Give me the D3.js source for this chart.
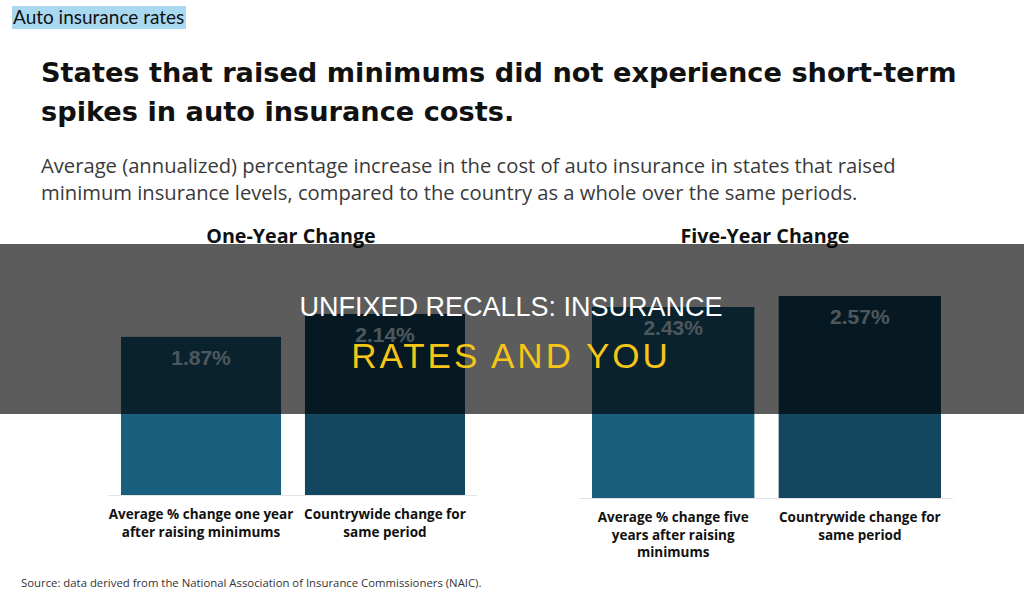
<!DOCTYPE html>
<html>
<head>
<meta charset="utf-8">
<script src="https://cdnjs.cloudflare.com/ajax/libs/d3/7.8.5/d3.min.js"></script>
<style>
  body { margin: 0; background: #fff; }
  svg { display: block; }
</style>
</head>
<body>
<div id="chart"></div>
<script>
// data
var oneYearCategories = ["Average % change one year|after raising minimums", "Countrywide change for|same period"];
var oneYearValues = [1.87, 2.14];
var fiveYearCategories = ["Average % change five|years after raising|minimums", "Countrywide change for|same period"];
var fiveYearValues = [2.43, 2.57];
var barColors = ["#19607f", "#134760"];

var W = 1024, H = 597;
var font = "'Open Sans', sans-serif";
var arial = "'Liberation Sans', Arial, sans-serif";

var svg = d3.select("#chart").append("svg")
  .attr("width", W).attr("height", H);

// tag label at top left
svg.append("rect").attr("x", 12).attr("y", 6).attr("width", 174).attr("height", 23).attr("fill", "#a9d9f1");
svg.append("text").attr("x", 13).attr("y", 24)
  .attr("font-family", "Lato, sans-serif").attr("font-size", 19).attr("fill", "#111")
  .text("Auto insurance rates");

// title
var title = ["States that raised minimums did not experience short-term", "spikes in auto insurance costs."];
svg.selectAll(".title").data(title).enter().append("text")
  .attr("x", 41).attr("y", function(d, i) { return 82 + i * 39; })
  .attr("font-family", "'DejaVu Sans', sans-serif").attr("font-weight", 700).attr("font-size", 27.2)
  .attr("fill", "#111").text(function(d) { return d; });

var sub = ["Average (annualized) percentage increase in the cost of auto insurance in states that raised",
           "minimum insurance levels, compared to the country as a whole over the same periods."];
svg.selectAll(".sub").data(sub).enter().append("text")
  .attr("x", 41).attr("y", function(d, i) { return 173 + i * 27; })
  .attr("font-family", font).attr("font-size", 20.2)
  .attr("fill", "#3a3a3a").text(function(d) { return d; });

function drawPanel(opts) {
  var x = d3.scaleBand().domain(opts.categories).range(opts.xRange).paddingInner(0.13).paddingOuter(0);
  var y = d3.scaleLinear().domain([0, d3.max(opts.values)]).range([opts.base, opts.top]);
  var g = svg.append("g");

  g.append("text").attr("x", opts.center).attr("y", 243).attr("text-anchor", "middle")
    .attr("font-family", font).attr("font-weight", 700).attr("font-size", 19.7).attr("fill", "#111")
    .text(opts.heading);

  g.append("line").attr("x1", opts.xRange[0] - 13).attr("x2", opts.xRange[1] + 12)
    .attr("y1", opts.base + 0.5).attr("y2", opts.base + 0.5)
    .attr("stroke", "#e4e4e4").attr("stroke-width", 1);

  g.selectAll("rect.bar").data(opts.values).enter().append("rect")
    .attr("class", "bar")
    .attr("x", function(d, i) { return x(opts.categories[i]); })
    .attr("y", function(d) { return y(d); })
    .attr("width", x.bandwidth())
    .attr("height", function(d) { return opts.base - y(d); })
    .attr("fill", function(d, i) { return barColors[i]; });

  g.selectAll("text.val").data(opts.values).enter().append("text")
    .attr("class", "val")
    .attr("x", function(d, i) { return x(opts.categories[i]) + x.bandwidth() / 2; })
    .attr("y", function(d) { return y(d) + 28; })
    .attr("text-anchor", "middle")
    .attr("font-family", arial).attr("font-weight", 700).attr("font-size", 21)
    .attr("fill", "#d8f0ff")
    .text(function(d) { return d.toFixed(2) + "%"; });

  g.selectAll("text.cat").data(opts.categories).enter().append("text")
    .attr("class", "cat")
    .attr("x", function(d) { return x(d) + x.bandwidth() / 2; })
    .attr("y", opts.base + 24)
    .attr("text-anchor", "middle")
    .attr("font-family", font).attr("font-weight", 700).attr("font-size", 13.5).attr("fill", "#111")
    .each(function(d) {
      var t = d3.select(this);
      d.split("|").forEach(function(line, i) {
        t.append("tspan").attr("x", t.attr("x")).attr("dy", i === 0 ? 0 : 17.5).text(line);
      });
    });
}

drawPanel({ heading: "One-Year Change", center: 291, categories: oneYearCategories, values: oneYearValues,
            xRange: [121, 465], base: 495, top: 314 });
drawPanel({ heading: "Five-Year Change", center: 765, categories: fiveYearCategories, values: fiveYearValues,
            xRange: [592, 941], base: 498, top: 296 });

svg.append("text").attr("x", 21).attr("y", 587)
  .attr("font-family", font).attr("font-size", 11.35).attr("fill", "#333")
  .text("Source: data derived from the National Association of Insurance Commissioners (NAIC).");

// dark overlay band with headline
svg.append("rect").attr("x", 0).attr("y", 244).attr("width", W).attr("height", 170)
  .attr("fill", "#000").attr("fill-opacity", 0.64);
svg.append("text").attr("x", 511).attr("y", 316).attr("text-anchor", "middle")
  .attr("font-family", arial).attr("font-size", 27).attr("fill", "#fff")
  .text("UNFIXED RECALLS: INSURANCE");
svg.append("text").attr("x", 511).attr("y", 368).attr("text-anchor", "middle")
  .attr("font-family", arial).attr("font-size", 35).attr("letter-spacing", 3).attr("fill", "#f5c518")
  .text("RATES AND YOU");
</script>
</body>
</html>
